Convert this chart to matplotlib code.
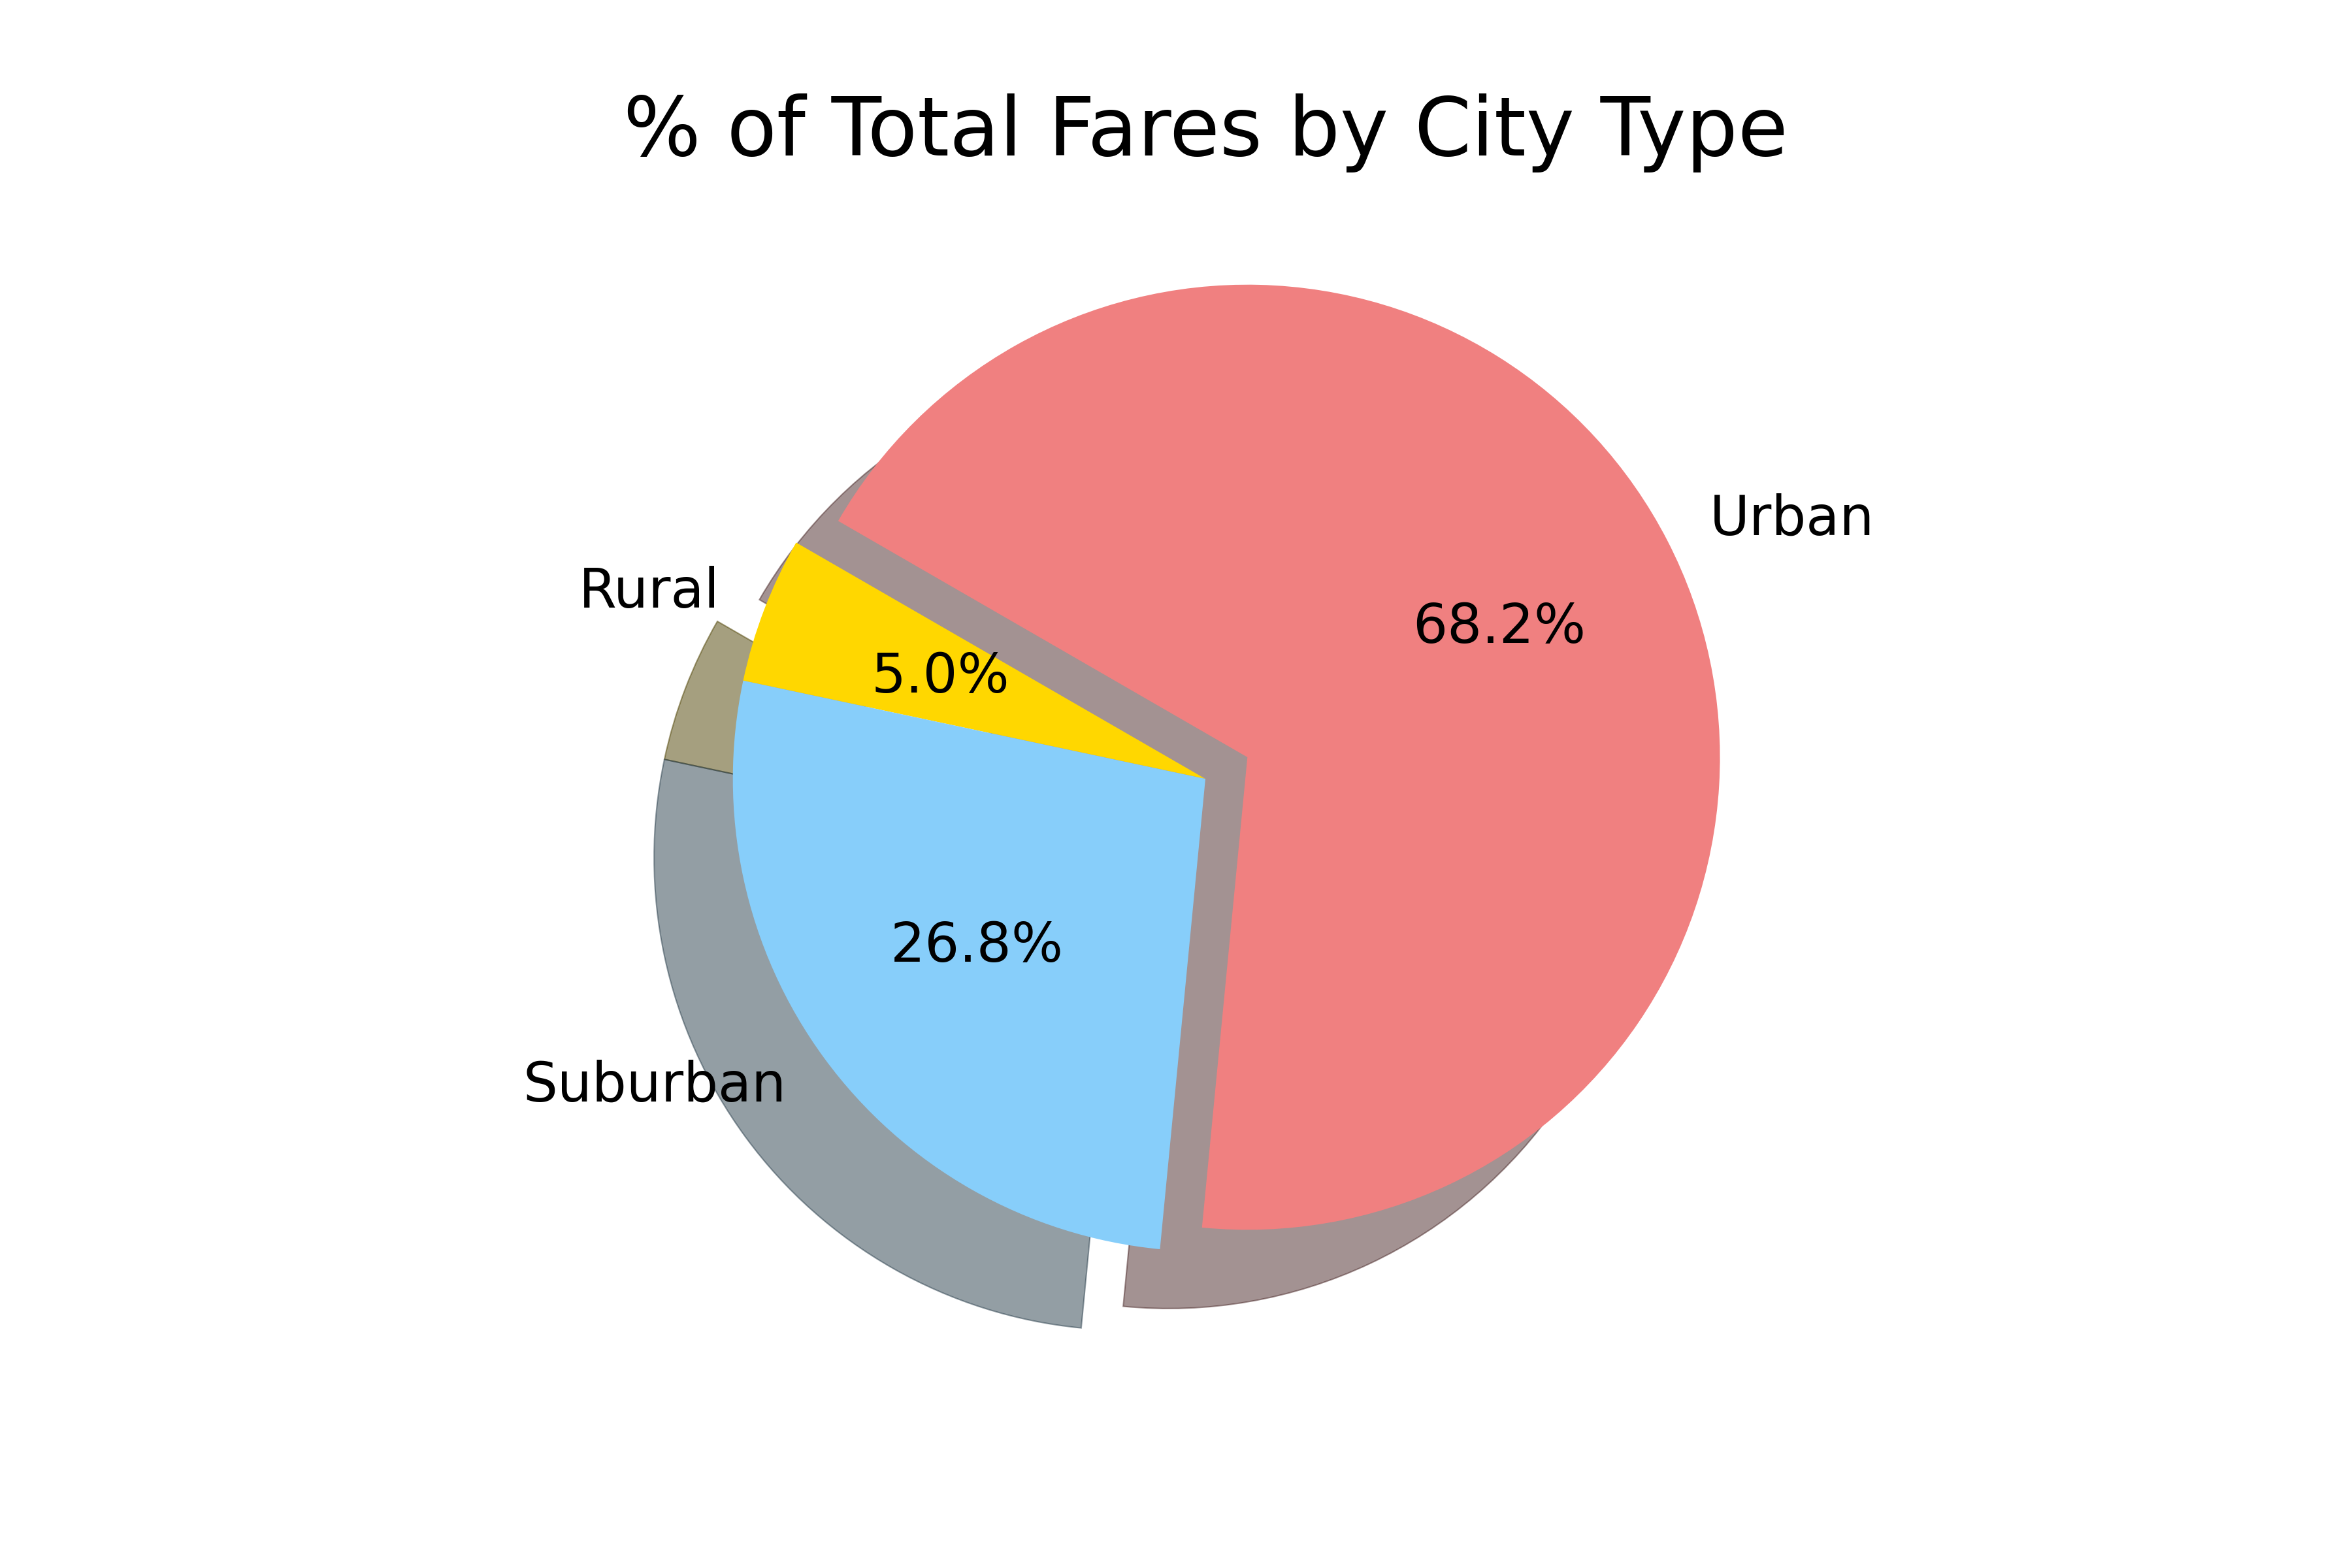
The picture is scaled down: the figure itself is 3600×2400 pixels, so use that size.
import matplotlib
matplotlib.use("Agg")
from matplotlib import pyplot as plt

city_types = ["Rural", "Suburban", "Urban"]
fare_pcts = [5.0, 26.8, 68.2]
colors = ["gold", "lightskyblue", "lightcoral"]
explode = [0, 0, 0.1]

fig, ax = plt.subplots(figsize=(6, 4), dpi=600)
ax.pie(fare_pcts, explode=explode, labels=city_types, colors=colors,
       autopct="%1.1f%%", startangle=150,
       shadow={"ox": -0.02, "oy": -0.02, "linewidth": 0.25})
ax.set_title("% of Total Fares by City Type", fontsize=15)
ax.set_aspect("equal", adjustable="datalim")
ax.set_xlim(-1.25, 1.25)
ax.set_ylim(-1.305, 1.25)
plt.savefig("out.png", dpi=600)
